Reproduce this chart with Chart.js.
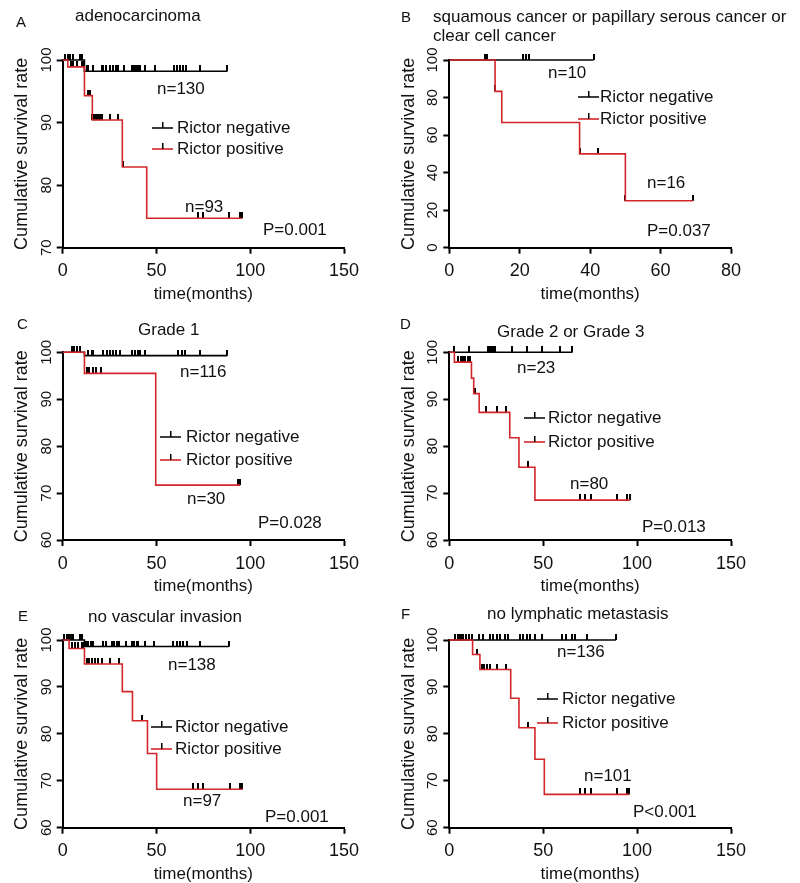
<!DOCTYPE html>
<html>
<head>
<meta charset="utf-8">
<script src="https://cdn.jsdelivr.net/npm/chart.js@4.4.0/dist/chart.umd.min.js"></script>
<style>
  html, body { margin: 0; padding: 0; background: #fff; }
  body { width: 800px; height: 883px; position: relative; overflow: hidden; }
  canvas { position: absolute; }
</style>
</head>
<body>
<canvas id="pA"></canvas>
<canvas id="pB"></canvas>
<canvas id="pC"></canvas>
<canvas id="pD"></canvas>
<canvas id="pE"></canvas>
<canvas id="pF"></canvas>
<script>
// A - adenocarcinoma
const aNegTime = [0, 11.6, 87.8];
const aNegSurv = [100, 98.2, 98.2];
const aNegCens = [1.1, 2.7, 3.9, 5.3, 9.2, 10.5, 12.8, 13.7, 16.4, 20.8, 21.7, 23.1, 25.2, 27.0, 28.4, 29.7, 32.9, 36.8, 38.0, 39.1, 40.4, 41.2, 43.9, 49.2, 59.4, 60.8, 62.6, 64.4, 65.8, 73.2, 87.8];
const aPosTime = [0, 2.7, 11.6, 15.8, 31.8, 44.8, 95.5];
const aPosSurv = [100, 98.9, 94.3, 90.4, 82.9, 74.7, 74.7];
const aPosCens = [4.3, 5.7, 7.5, 10.1, 11.0, 13.7, 14.6, 15.8, 16.8, 17.8, 18.8, 19.8, 20.8, 25.2, 29.7, 31.9, 72.3, 75.0, 88.9, 94.6, 95.5];

// B - squamous / papillary serous / clear cell
const bNegTime = [0, 41];
const bNegSurv = [100, 100];
const bNegCens = [10, 10.6, 21, 21.8, 22.6, 41];
const bPosTime = [0, 13, 14.9, 37, 50, 69.1];
const bPosSurv = [100, 83.3, 66.7, 50, 25, 25];
const bPosCens = [13, 37, 42.1, 50, 69.1];

// C - Grade 1
const cNegTime = [0, 11.6, 87.8];
const cNegSurv = [100, 99.3, 99.3];
const cNegCens = [4.8, 5.9, 7.5, 9.2, 13.7, 15.5, 16.4, 21.7, 23.8, 25.2, 27.0, 28.4, 30.6, 36.8, 38.5, 40.0, 41.2, 43.9, 61.7, 63.5, 65.2, 73.2, 87.8];
const cPosTime = [0, 11.6, 49.6, 94.6];
const cPosSurv = [100, 95.5, 71.7, 71.7];
const cPosCens = [12.8, 14.2, 16.4, 17.8, 20.4, 93.5, 94.6];

// D - Grade 2 or Grade 3
const dNegTime = [0, 65.5];
const dNegSurv = [100, 100];
const dNegCens = [2.5, 10.4, 20.8, 21.6, 22.4, 23.2, 24.3, 33.2, 41.2, 49.3, 59.2, 65.5];
const dPosTime = [0, 2.7, 11.8, 13.0, 15.9, 32.2, 37.1, 45.6, 96.2];
const dPosSurv = [100, 97.9, 94.5, 91.2, 87.2, 81.8, 75.5, 68.5, 68.5];
const dPosCens = [4.8, 6.0, 7.2, 8.5, 9.7, 10.9, 13.6, 19.6, 25.3, 30.2, 42.1, 69.6, 72.3, 75.3, 89.1, 94.5, 96.2];

// E - no vascular invasion
const eNegTime = [0, 11.6, 88.7];
const eNegSurv = [100, 98.6, 98.6];
const eNegCens = [0.9, 2.1, 3.2, 4.3, 5.7, 9.2, 10.5, 12.3, 13.7, 14.9, 15.8, 16.4, 21.7, 23.1, 26.1, 27.4, 28.8, 30.2, 33.8, 36.8, 38.2, 39.6, 40.4, 43.9, 48.7, 59.0, 60.8, 62.6, 64.4, 66.1, 73.2, 88.7];
const ePosTime = [0, 3.4, 11.6, 31.8, 37.2, 45.2, 50.1, 95.8];
const ePosSurv = [100, 98.2, 94.9, 89.0, 82.8, 75.8, 68.2, 68.2];
const ePosCens = [4.8, 6.6, 8.4, 10.1, 11.0, 12.8, 14.2, 15.6, 17.0, 18.7, 20.8, 25.2, 30.2, 42.1, 69.3, 72.3, 75.0, 89.2, 94.8, 95.8];

// F - no lymphatic metastasis
const fNegTime = [0, 88.7];
const fNegSurv = [100, 100];
const fNegCens = [3.0, 4.5, 5.3, 6.2, 7.5, 9.0, 10.3, 12.2, 16.0, 17.7, 21.7, 23.4, 25.2, 27.0, 29.5, 31.4, 37.6, 39.4, 41.2, 43.0, 45.6, 49.2, 59.8, 62.4, 65.1, 67.0, 73.1, 88.7];
const fPosTime = [0, 12.4, 16.3, 32.7, 37.1, 45.6, 50.6, 95.8];
const fPosSurv = [100, 96.9, 93.7, 87.6, 81.3, 74.6, 67.1, 67.1];
const fPosCens = [14.8, 17.2, 18.5, 19.9, 21.6, 25.2, 30.2, 42.1, 69.6, 72.3, 75.3, 89.5, 94.6, 95.8];

const legendLabels = ['Rictor negative', 'Rictor positive'];

const FONT = "'Liberation Sans', Arial, sans-serif";
const RED = '#d3262a';
const INK = '#111';
const Y_W = 51;   // width of the y axis box
const X_H = 57;   // height of the x axis box

// survival value of a step curve at time t
function survAt(times, surv, t) {
    let v = surv[0];
    for (let i = 0; i < times.length; i++) {
        if (times[i] <= t) v = surv[i];
    }
    return v;
}

// censor mark: short vertical tick sitting on the curve
const tick = document.createElement('canvas');
tick.width = 2;
tick.height = 12;
(function() {
    const g = tick.getContext('2d');
    g.fillStyle = '#000';
    g.fillRect(0, 0, 2, 6);
})();

function stepDataset(times, surv, color) {
    return {
        data: times.map((x, i) => ({ x: x, y: surv[i] })),
        borderColor: color,
        borderWidth: 1.6,
        stepped: true,
        pointRadius: 0,
        fill: false,
        clip: false
    };
}

function censorDataset(times, surv, cens) {
    return {
        data: cens.map(x => ({ x: x, y: survAt(times, surv, x) })),
        showLine: false,
        pointStyle: tick,
        pointRadius: 3,
        clip: false
    };
}

function makePanel(p) {
    const canvas = document.getElementById(p.id);
    canvas.width = p.width;
    canvas.height = p.height;
    canvas.style.left = p.left + 'px';
    canvas.style.top = p.top + 'px';

    // texts, legend, panel letter drawn on top of the chart
    const textPlugin = {
        id: 'panelText',
        afterDraw(chart) {
            const ctx = chart.ctx;
            ctx.save();
            ctx.textBaseline = 'middle';
            ctx.textAlign = 'left';
            ctx.fillStyle = INK;
            ctx.font = '15px ' + FONT;
            ctx.fillText(p.letter[0], p.letter[1] - p.left, p.letter[2] - p.top);
            ctx.font = '17px ' + FONT;
            p.titles.concat(p.notes).forEach(n => {
                ctx.fillText(n[0], n[1] - p.left, n[2] - p.top);
            });
            [INK, RED].forEach((color, i) => {
                const x = p.legend.x - p.left;
                const y = p.legend.y[i] - p.top;
                ctx.strokeStyle = color;
                ctx.lineWidth = 1.6;
                ctx.beginPath();
                ctx.moveTo(x, y);
                ctx.lineTo(x + 21, y);
                ctx.stroke();
                ctx.fillStyle = '#000';
                ctx.fillRect(x + 10, y - 6, 1.5, 6);
                ctx.fillStyle = INK;
                ctx.fillText(legendLabels[i], p.legend.tx - p.left, y);
            });
            ctx.restore();
        }
    };

    const fixBox = (size) => (axis) => {
        if (axis.isHorizontal()) axis.height = size; else axis.width = size;
        axis.paddingLeft = 0;
        axis.paddingRight = 0;
        axis.paddingTop = 0;
        axis.paddingBottom = 0;
    };

    new Chart(canvas.getContext('2d'), {
        type: 'line',
        data: {
            datasets: [
                stepDataset(p.pos.t, p.pos.s, RED),
                stepDataset(p.neg.t, p.neg.s, '#000'),
                censorDataset(p.pos.t, p.pos.s, p.pos.c),
                censorDataset(p.neg.t, p.neg.s, p.neg.c)
            ]
        },
        options: {
            responsive: false,
            animation: false,
            layout: {
                padding: {
                    left: p.plot.l - p.left - Y_W,
                    top: p.plot.t - p.top,
                    right: p.left + p.width - p.plot.r,
                    bottom: p.top + p.height - p.plot.b - X_H
                }
            },
            plugins: {
                legend: { display: false },
                tooltip: { enabled: false }
            },
            scales: {
                x: {
                    type: 'linear',
                    min: 0,
                    max: p.xMax,
                    afterFit: fixBox(X_H),
                    ticks: {
                        stepSize: p.xStep,
                        color: INK,
                        padding: 7,
                        maxRotation: 0,
                        font: { family: FONT, size: 18 }
                    },
                    grid: {
                        drawOnChartArea: false,
                        drawTicks: true,
                        tickLength: 6,
                        tickColor: '#000',
                        tickWidth: 2
                    },
                    border: { display: true, color: '#000', width: 2 },
                    title: {
                        display: true,
                        text: 'time(months)',
                        color: INK,
                        padding: 0,
                        font: { family: FONT, size: 17 }
                    }
                },
                y: {
                    type: 'linear',
                    min: p.yMin,
                    max: p.yMax,
                    afterFit: fixBox(Y_W),
                    ticks: {
                        stepSize: p.yStep,
                        color: INK,
                        padding: -2.5,
                        minRotation: 90,
                        maxRotation: 90,
                        crossAlign: 'center',
                        autoSkip: false,
                        font: { family: FONT, size: 15 }
                    },
                    grid: {
                        drawOnChartArea: false,
                        drawTicks: true,
                        tickLength: 6,
                        tickColor: '#000',
                        tickWidth: 2
                    },
                    border: { display: true, color: '#000', width: 2 },
                    title: {
                        display: true,
                        text: 'Cumulative survival rate',
                        color: INK,
                        padding: 0,
                        font: { family: FONT, size: 18 }
                    }
                }
            }
        },
        plugins: [textPlugin]
    });
}

makePanel({
    id: 'pA', left: 0, top: 0, width: 400, height: 310,
    plot: { l: 62.7, t: 60, r: 344, b: 247.7 },
    xMax: 150, xStep: 50, yMin: 70, yMax: 100, yStep: 10,
    neg: { t: aNegTime, s: aNegSurv, c: aNegCens },
    pos: { t: aPosTime, s: aPosSurv, c: aPosCens },
    letter: ['A', 16, 23],
    titles: [['adenocarcinoma', 75, 16]],
    notes: [['n=130', 157, 89], ['n=93', 185, 207], ['P=0.001', 263, 230]],
    legend: { x: 152, y: [128, 149], tx: 177 }
});

makePanel({
    id: 'pB', left: 390, top: 0, width: 410, height: 310,
    plot: { l: 449.3, t: 60, r: 731, b: 247.7 },
    xMax: 80, xStep: 20, yMin: 0, yMax: 100, yStep: 20,
    neg: { t: bNegTime, s: bNegSurv, c: bNegCens },
    pos: { t: bPosTime, s: bPosSurv, c: bPosCens },
    letter: ['B', 401, 18],
    titles: [['squamous cancer or papillary serous cancer or', 433, 17], ['clear cell cancer', 433, 36]],
    notes: [['n=10', 548, 73], ['n=16', 647, 183], ['P=0.037', 647, 231]],
    legend: { x: 578, y: [97, 119], tx: 600 }
});

makePanel({
    id: 'pC', left: 0, top: 292, width: 400, height: 310,
    plot: { l: 62.7, t: 352.3, r: 344, b: 540 },
    xMax: 150, xStep: 50, yMin: 60, yMax: 100, yStep: 10,
    neg: { t: cNegTime, s: cNegSurv, c: cNegCens },
    pos: { t: cPosTime, s: cPosSurv, c: cPosCens },
    letter: ['C', 17, 325],
    titles: [['Grade 1', 138, 330]],
    notes: [['n=116', 180, 372], ['n=30', 187, 499], ['P=0.028', 258, 523]],
    legend: { x: 160, y: [437, 460], tx: 186 }
});

makePanel({
    id: 'pD', left: 390, top: 292, width: 410, height: 310,
    plot: { l: 449.3, t: 352.3, r: 731, b: 540 },
    xMax: 150, xStep: 50, yMin: 60, yMax: 100, yStep: 10,
    neg: { t: dNegTime, s: dNegSurv, c: dNegCens },
    pos: { t: dPosTime, s: dPosSurv, c: dPosCens },
    letter: ['D', 400, 325],
    titles: [['Grade 2 or Grade 3', 497, 332]],
    notes: [['n=23', 517, 368], ['n=80', 570, 484], ['P=0.013', 642, 527]],
    legend: { x: 524, y: [418, 442], tx: 548 }
});

makePanel({
    id: 'pE', left: 0, top: 580, width: 400, height: 310,
    plot: { l: 62.7, t: 640, r: 344, b: 827.7 },
    xMax: 150, xStep: 50, yMin: 60, yMax: 100, yStep: 10,
    neg: { t: eNegTime, s: eNegSurv, c: eNegCens },
    pos: { t: ePosTime, s: ePosSurv, c: ePosCens },
    letter: ['E', 18, 617],
    titles: [['no vascular invasion', 88, 617]],
    notes: [['n=138', 168, 665], ['n=97', 183, 801], ['P=0.001', 265, 817]],
    legend: { x: 151, y: [727, 749], tx: 175 }
});

makePanel({
    id: 'pF', left: 390, top: 580, width: 410, height: 310,
    plot: { l: 449.3, t: 640, r: 731, b: 827.7 },
    xMax: 150, xStep: 50, yMin: 60, yMax: 100, yStep: 10,
    neg: { t: fNegTime, s: fNegSurv, c: fNegCens },
    pos: { t: fPosTime, s: fPosSurv, c: fPosCens },
    letter: ['F', 401, 615],
    titles: [['no lymphatic metastasis', 487, 614]],
    notes: [['n=136', 557, 652], ['n=101', 584, 776], ['P<0.001', 633, 812]],
    legend: { x: 537, y: [699, 723], tx: 562 }
});
</script>
</body>
</html>
